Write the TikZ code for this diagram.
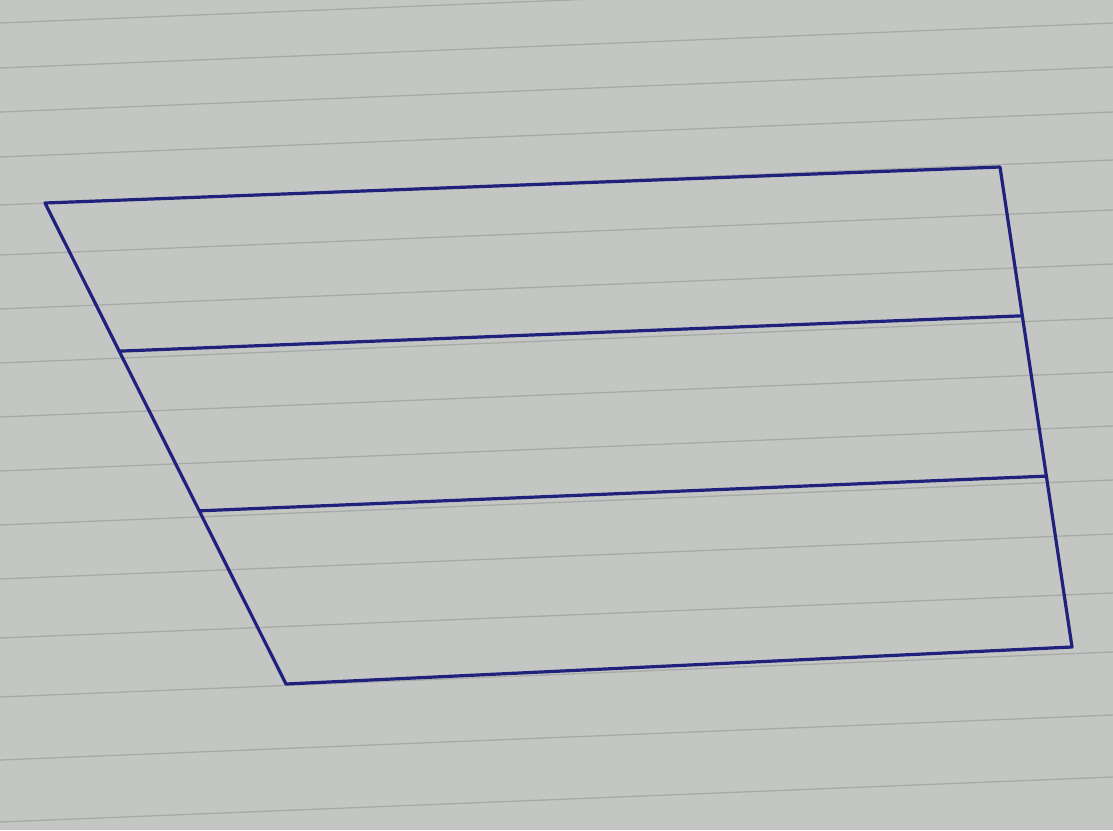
\documentclass[tikz,border=0pt]{standalone}
\usepackage{tikz}
\usetikzlibrary{calc}
\definecolor{paper}{RGB}{196,198,195}
\definecolor{rule}{RGB}{168,170,168}
\definecolor{ink}{RGB}{32,32,125}
\tikzstyle{ruled} = [draw=rule, line width=1.3pt]
\tikzstyle{pen} = [draw=ink, line width=3.2pt, line join=round, line cap=round]

\begin{document}
\begin{tikzpicture}[x=1pt, y=-1pt]

  % We start by laying down the sheet of paper
  \fill [paper] (0,0) rectangle (1113,830);
  \useasboundingbox (0,0) rectangle (1113,830);
  \foreach \y in {23,68,112,157,205,255,309,363,417,471,525,579,638,697,760,822}
    \draw [ruled] (0,\y) -- ++(1113,-45);

  % The corners of the trapezium
  \coordinate (tl) at (45,203);
  \coordinate (tr) at (1000,167);
  \coordinate (br) at (1072,647);
  \coordinate (bl) at (286,684);
  \coordinate (l1) at ($(tl)!0.308!(bl)$);
  \coordinate (r1) at ($(tr)!0.31!(br)$);
  \coordinate (l2) at ($(tl)!0.64!(bl)$);
  \coordinate (r2) at ($(tr)!0.644!(br)$);

  % Draw the outline and the two strips
  \draw [pen] (tl) -- (tr) -- (br) -- (bl) -- cycle;
  \draw [pen] (l1) -- (r1);
  \draw [pen] (l2) -- (r2);

\end{tikzpicture}
\end{document}
